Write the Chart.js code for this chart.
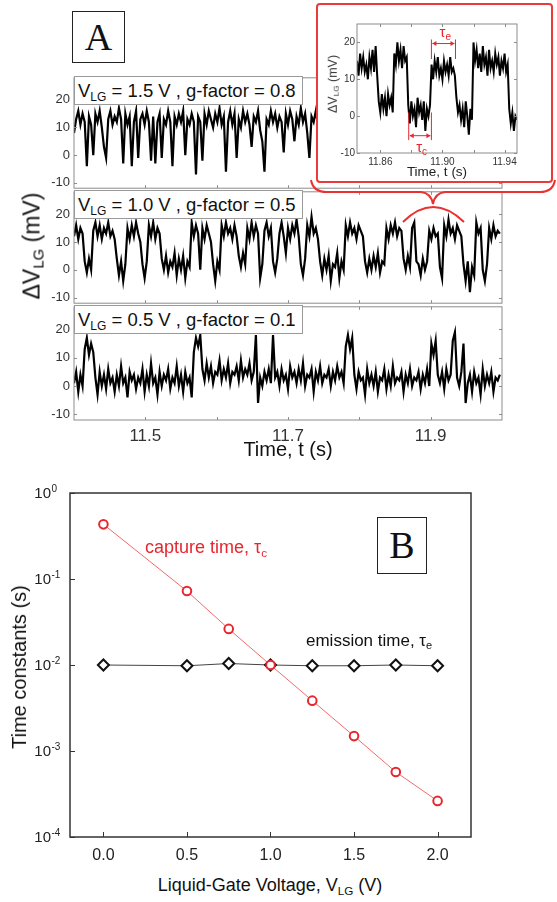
<!DOCTYPE html>
<html>
<head>
<meta charset="utf-8">
<script src="https://cdn.jsdelivr.net/npm/chart.js@4.4.1/dist/chart.umd.min.js"></script>
<style>
body { margin: 0; background: #fff; }
#page { position: relative; width: 557px; height: 902px; overflow: hidden;
        font-family: "Liberation Sans", Arial, Helvetica, sans-serif; color: #111; }
canvas { position: absolute; }
.t { position: absolute; white-space: nowrap; line-height: 1; }
.c { transform: translate(-50%, -50%); }
.rot { transform: translate(-50%, -50%) rotate(-90deg); }
sub { font-size: 65%; vertical-align: -0.3em; line-height: 0; }
.lbl { position: absolute; left: 74px; width: 229px; height: 29px; box-sizing: border-box;
       background: #fff; border: 1px solid #9a9a9a; font-size: 18.5px; line-height: 27px;
       padding-left: 3px; white-space: nowrap; }
.letter { position: absolute; box-sizing: border-box; border: 1.5px solid #222; background: #fff;
          font-family: "Liberation Serif", "Times New Roman", serif; font-size: 38px;
          text-align: center; }
#inset { position: absolute; left: 316px; top: 3px; width: 237px; height: 180px; box-sizing: border-box;
         border: 2px solid #ea3a3a; border-radius: 4px; background: #fff; }
</style>
</head>
<body>
<div id="page">
  <canvas id="p1" width="557" height="134" style="left:0;top:66px"></canvas>
  <canvas id="p2" width="557" height="135" style="left:0;top:180px"></canvas>
  <canvas id="p3" width="557" height="155" style="left:0;top:295px"></canvas>

  <div class="lbl" style="top:76px">V<sub>LG</sub> = 1.5 V , g-factor = 0.8</div>
  <div class="lbl" style="top:190px">V<sub>LG</sub> = 1.0 V , g-factor = 0.5</div>
  <div class="lbl" style="top:305px">V<sub>LG</sub> = 0.5 V , g-factor = 0.1</div>

  <div class="letter" style="left:72px;top:11px;width:53px;height:52px;line-height:50px">A</div>

  <div class="t rot" style="left:32px;top:246px;font-size:23px">&Delta;V<sub>LG</sub> (mV)</div>
  <div class="t c" style="left:288px;top:449px;font-size:20px">Time, t (s)</div>

  <div id="inset"></div>
  <canvas id="pi" width="233" height="176" style="left:318px;top:5px"></canvas>
  <div class="t rot" style="left:333px;top:84px;font-size:12.5px;color:#333">&Delta;V<sub>LG</sub> (mV)</div>
  <div class="t c" style="left:437px;top:172px;font-size:13.5px;color:#222">Time, t (s)</div>

  <svg style="position:absolute;left:0;top:0" width="557" height="240">
    <path d="M311,180 Q313,192 327,192 L421,192 Q431,193 433,204 Q435,193 445,192 L540,192 Q553,192 555,180"
          fill="none" stroke="#ea3030" stroke-width="2"/>
    <path d="M403,222 Q433,192 464,222" fill="none" stroke="#ea3030" stroke-width="2"/>
  </svg>

  <canvas id="pB" width="557" height="387" style="left:0;top:480px"></canvas>
  <div class="letter" style="left:377px;top:517px;width:50px;height:57px;line-height:55px">B</div>
  <div class="t" style="left:145px;top:538px;font-size:18px;color:#e8262e">capture time, &tau;<sub>c</sub></div>
  <div class="t" style="left:306px;top:632px;font-size:17px;color:#111">emission time, &tau;<sub>e</sub></div>
  <div class="t rot" style="left:19px;top:667px;font-size:20px">Time constants (s)</div>
  <div class="t c" style="left:270px;top:885px;font-size:18px">Liquid-Gate Voltage, V<sub>LG</sub> (V)</div>
</div>

<script>
const FONT = "'Liberation Sans', Arial, Helvetica, sans-serif";
const RED = '#e8262e';
Chart.defaults.font.family = FONT;

// PANEL A DATA - gate voltage traces in mV, one sample every 3 ms from 11.400 s
const traceStart = 11.4;
const traceStep = 0.003;

// VLG = 1.5 V, g-factor 0.8
const trace15 = [
  8, 13, 16, 11, 15, 12, -4, 14, 11, 0,
  15, 12, 16, 10, 3, -1, 13, 16, 11, 14,
  12, 17, 13, -3, 15, 11, 14, -4, 12, 16,
  -1, 13, 15, 11, 16, 12, -2, 14, -3, 12,
  15, -1, 13, 11, 16, 12, -4, 14, 11, 15,
  12, 16, 0, 13, 11, 15, 12, -7, 14, 12,
  -2, 15, 11, 16, 13, 10, 15, 12, 17, 11,
  14, -6, 12, 16, 11, 15, -1, 13, 10, 16,
  12, 15, 11, 3, 14, 12, 16, 9, 5, -6,
  13, 11, 16, 12, 15, 10, 14, 12, 1, 15,
  11, 16, 13, 5, 14, 11, 17, 12, 15, 8,
  -1, 14, 12, 16, 11, 15, -3, 13, 16, 12,
  14, 11, 15, 13, -2, 12, 16, 11, 15, 13,
  10, -5, 14, 12, 16, 11, 15, 12, 14, 11,
  -4, 15, 12, 16, 13, 11, 15, -3, 12, 16,
  11, 14, 12, 15, 10, -2, 13, 16, 11, 15,
  12, 14, -4, 13, 11, 16, 12, 15, 11, 14,
  13, -3, 15, 12, 16, 11, 14, 12, -1, 15,
  11, 16, 13, 12, 15, 11, 14, -5, 13, 16,
  12, 15, 11, -2, 14, 12, 16, 13, 11, 14
];

// VLG = 1.0 V, g-factor 0.5
const trace10 = [
  12, 16, 11, 15, 13, 3, -1, 4, 0, 14,
  17, 12, 16, 11, 15, 13, 17, 12, 14, 11,
  4, -2, 3, -4, 2, 15, 11, 16, 12, 17,
  13, 10, 2, -3, 3, 16, 12, 17, 11, 15,
  13, 4, 0, 5, -1, 3, 1, 6, -2, 4,
  0, 5, -3, 3, 1, 17, 12, 16, 13, 0,
  15, 11, 16, 13, 10, 2, -4, 3, 0, 16,
  12, 17, 13, 15, 11, 16, 12, 5, 1, 6,
  2, 15, 11, 17, 12, 16, 13, -3, 2, 14,
  17, 12, 15, 3, -1, 4, 13, 17, 12, 6,
  15, 11, 16, 13, 18, 12, 2, -2, 4, 16,
  12, 19, 13, 15, 11, 3, -2, 4, 0, 5,
  -4, 2, 1, 6, -3, 3, 0, 16, 12, 17,
  13, 15, 11, 16, 14, 12, 3, -1, 4, 0,
  5, 1, 6, -1, 3, 2, 15, 11, 16, 13,
  17, 12, 15, 14, 4, 0, 5, 1, 15, 17,
  3, 2, -2, 4, 0, 3, 14, 11, 15, 12,
  13, 1, -3, 16, 12, 18, 13, 15, 11, 16,
  14, 12, 2, -4, 3, -8, 1, -2, 17, 13,
  15, 0, -4, 2, 15, 11, 16, 12, 14, 13
];

// VLG = 0.5 V, g-factor 0.1
const trace05 = [
  1, 5, -2, 4, 0, 13, 17, 11, 15, 12,
  3, -3, 5, 0, 4, -1, 6, 1, 3, -2,
  4, 0, 7, 1, 3, -4, 5, 2, 4, -1,
  3, 1, 6, -2, 4, 0, 8, 1, 3, -3,
  5, 0, 4, 2, 6, -1, 3, 1, 7, 0,
  4, -2, 5, 1, 3, -4, 12, 17, 14, 18,
  6, 2, 8, 3, 7, 1, 5, 4, 9, 2,
  6, 3, 8, 1, 5, 4, 7, 2, 9, 3,
  6, 4, 8, 2, 5, 18, -6, 3, 0, 5,
  2, 6, 1, 18, 3, 5, 0, 6, 2, 4,
  -1, 7, 3, 5, 1, 6, 2, 8, 0, 4,
  3, 6, -2, 5, 2, 7, 1, 4, 3, 6,
  0, 5, 2, 7, 3, 5, 1, 14, 18, 13,
  17, 4, -1, 5, 2, 3, -3, 6, 1, 4,
  0, 5, -2, 3, 2, 6, -1, 4, 0, 7,
  1, 3, 2, 5, -2, 4, 1, 6, 0, 3,
  2, 5, -1, 4, 1, 6, 0, 15, 11, 16,
  4, 1, 5, -1, 6, 2, 4, 16, 19, 3,
  0, 5, 15, -6, 1, 4, -2, 5, 1, 3,
  -3, 6, 0, 4, 1, 5, -2, 3, 2, 4
];

// inset: zoom of the 1.0 V trace, 1 ms samples from 11.845 s
const insetStart = 11.845;
const insetStep = 0.001;
const insetTrace = [
  15, 11, 17, 13, 16, 12, 14, 10, 16, 13,
  18, 12, 19, 11, 4, 1, 6, 2, 5, 0,
  6, 3, 5, 1, 17, 14, 20, 15, 18, 13,
  19, 15, 16, 3, -2, 4, 0, 2, -3, 5,
  1, 3, -1, 4, -4, 2, 0, 3, 14, 10,
  15, 12, 16, 11, 13, 10, 15, 12, 14, 11,
  16, 12, 13, 11, 5, 1, 3, -1, 2, -3,
  4, 0, -5, 2, -1, 20, 15, 18, 13, 17,
  12, 19, 14, 16, 11, 18, 13, 15, 12, 17,
  14, 16, 11, 15, 13, 17, 12, 14, 2, -2,
  1, -4, 0, -1
];
const tauC = [11.8783, 11.8929];
const tauE = [11.8929, 11.9084];

const timeTicks = [11.5, 11.7, 11.9];
const timeMarks = [11.5, 11.6, 11.7, 11.8, 11.9];
const mvTicks = [-10, 0, 10, 20];
const insetTimeTicks = [11.86, 11.90, 11.94];
const insetTimeMarks = [11.86, 11.88, 11.90, 11.92, 11.94];

// PANEL B DATA
const vlg = [0, 0.5, 0.75, 1.0, 1.25, 1.5, 1.75, 2.0];
const tauCapture = [0.432, 0.0724, 0.0263, 0.0100, 0.00385, 0.00149, 0.00057, 0.000263];
const tauEmission = [0.0100, 0.0098, 0.0104, 0.0100, 0.0098, 0.0098, 0.0100, 0.0098];
const vlgTicks = [0, 0.5, 1.0, 1.5, 2.0];
const decadeTicks = [1e-4, 1e-3, 1e-2, 1e-1, 1];

// box round the plot area, ticks pointing inwards
const frame = {
  id: 'frame',
  afterDatasetsDraw(chart, args, o) {
    const {ctx, chartArea: a, scales} = chart;
    ctx.save();
    ctx.strokeStyle = o.color;
    ctx.lineWidth = o.width;
    ctx.strokeRect(a.left, a.top, a.right - a.left, a.bottom - a.top);
    ctx.lineWidth = 1;
    ctx.beginPath();
    (o.xMarks || []).forEach(v => {
      const px = Math.round(scales.x.getPixelForValue(v)) + 0.5;
      ctx.moveTo(px, a.bottom); ctx.lineTo(px, a.bottom - o.len);
      if (o.mirror) { ctx.moveTo(px, a.top); ctx.lineTo(px, a.top + o.len); }
    });
    (o.yMarks || []).forEach(v => {
      const py = Math.round(scales.y.getPixelForValue(v)) + 0.5;
      ctx.moveTo(a.left, py); ctx.lineTo(a.left + o.len, py);
      if (o.mirror) { ctx.moveTo(a.right, py); ctx.lineTo(a.right - o.len, py); }
    });
    ctx.stroke();
    ctx.restore();
  }
};

// tau_c / tau_e markers in the inset
const tauMarks = {
  id: 'tauMarks',
  afterDatasetsDraw(chart) {
    const {ctx, scales: {x, y}} = chart;
    ctx.save();
    ctx.strokeStyle = RED;
    ctx.fillStyle = RED;
    ctx.lineWidth = 1;
    function span(t, yTop, yBot, yArrow, sub, yText) {
      const x0 = x.getPixelForValue(t[0]), x1 = x.getPixelForValue(t[1]);
      const ya = y.getPixelForValue(yArrow);
      ctx.beginPath();
      ctx.moveTo(x0, y.getPixelForValue(yTop)); ctx.lineTo(x0, y.getPixelForValue(yBot));
      ctx.moveTo(x1, y.getPixelForValue(yTop)); ctx.lineTo(x1, y.getPixelForValue(yBot));
      ctx.moveTo(x0 + 1, ya); ctx.lineTo(x1 - 1, ya);
      ctx.stroke();
      ctx.beginPath();
      ctx.moveTo(x0 + 1, ya); ctx.lineTo(x0 + 5, ya - 2.5); ctx.lineTo(x0 + 5, ya + 2.5); ctx.closePath();
      ctx.moveTo(x1 - 1, ya); ctx.lineTo(x1 - 5, ya - 2.5); ctx.lineTo(x1 - 5, ya + 2.5); ctx.closePath();
      ctx.fill();
      const cx = (x0 + x1) / 2, cy = y.getPixelForValue(yText);
      ctx.textBaseline = 'middle';
      ctx.textAlign = 'right';
      ctx.font = '15px ' + FONT;
      ctx.fillText('\u03c4', cx + 2, cy);
      ctx.textAlign = 'left';
      ctx.font = '10px ' + FONT;
      ctx.fillText(sub, cx + 2, cy + 4);
    }
    span(tauC, 1, -6.5, -5.3, 'c', -8.6);
    span(tauE, 20.8, 15.5, 19.7, 'e', 22.6);
    ctx.restore();
  }
};

// 10^n labels for the log axis of panel B
const decadeLabels = {
  id: 'decadeLabels',
  afterDraw(chart) {
    const {ctx, chartArea: a, scales: {y}} = chart;
    ctx.save();
    ctx.fillStyle = '#222';
    ctx.textBaseline = 'middle';
    decadeTicks.forEach(v => {
      const py = y.getPixelForValue(v);
      const base = a.left - 19;
      ctx.font = '15px ' + FONT;
      ctx.textAlign = 'right';
      ctx.fillText('10', base, py + 1);
      ctx.font = '10px ' + FONT;
      ctx.textAlign = 'left';
      ctx.fillText(String(Math.round(Math.log10(v))), base + 0.5, py - 4);
    });
    ctx.restore();
  }
};

function traceChart(id, values, start, step, cfg) {
  const pts = values.map((v, i) => ({x: start + i * step, y: v}));
  return new Chart(document.getElementById(id), {
    type: 'line',
    data: {datasets: [{data: pts, borderColor: '#000', borderWidth: cfg.lw, pointRadius: 0, tension: 0,
      borderJoinStyle: 'miter'}]},
    options: {
      responsive: false, animation: false, devicePixelRatio: 1, events: [],
      layout: {padding: cfg.pad},
      plugins: {
        legend: {display: false}, tooltip: {enabled: false},
        frame: {color: '#8c8c8c', width: 1, len: 3, mirror: true, xMarks: cfg.xMarks, yMarks: mvTicks}
      },
      scales: {
        x: {
          type: 'linear', min: cfg.xmin, max: cfg.xmax, display: cfg.showX,
          grid: {display: false, drawTicks: false}, border: {display: false},
          afterBuildTicks: s => { s.ticks = cfg.xTicks.map(v => ({value: v})); },
          afterFit: s => { s.height = cfg.showX ? cfg.xh : 0; },
          ticks: {padding: cfg.xpad, color: '#333', font: {size: cfg.xfs}, callback: v => v.toFixed(cfg.dec)}
        },
        y: {
          min: cfg.ymin, max: cfg.ymax,
          grid: {display: false, drawTicks: false}, border: {display: false},
          afterBuildTicks: s => { s.ticks = mvTicks.map(v => ({value: v})); },
          afterFit: s => { s.width = cfg.yw; },
          ticks: {padding: cfg.ypad, color: '#333', font: {size: cfg.yfs}}
        }
      }
    },
    plugins: [frame].concat(cfg.extra || [])
  });
}

const mainCfg = {lw: 2.2, xmin: 11.4, xmax: 12.0, ymin: -12, ymax: 28, yw: 40, ypad: 4, yfs: 13,
  xTicks: timeTicks, xMarks: timeMarks, dec: 1, xfs: 17, xpad: 6, xh: 30};

traceChart('p1', trace15, traceStart, traceStep,
  Object.assign({}, mainCfg, {showX: false, pad: {left: 34, right: 55, top: 10, bottom: 10}}));
traceChart('p2', trace10, traceStart, traceStep,
  Object.assign({}, mainCfg, {showX: false, pad: {left: 34, right: 55, top: 10, bottom: 10}}));
traceChart('p3', trace05, traceStart, traceStep,
  Object.assign({}, mainCfg, {showX: true, pad: {left: 34, right: 55, top: 10, bottom: 0}}));

traceChart('pi', insetTrace, insetStart, insetStep, {
  lw: 2.0, xmin: 11.845, xmax: 11.948, ymin: -10, ymax: 25, yw: 39, ypad: 2, yfs: 10,
  xTicks: insetTimeTicks, xMarks: insetTimeMarks, dec: 2, xfs: 10, xpad: 3, xh: 28, showX: true,
  pad: {left: 0, right: 34, top: 19, bottom: 0}, extra: [tauMarks]
});

// PANEL B
new Chart(document.getElementById('pB'), {
  type: 'line',
  data: {
    datasets: [
      {
        label: 'capture time',
        data: vlg.map((v, i) => ({x: v, y: tauCapture[i]})),
        borderColor: '#f26a6a', borderWidth: 1,
        pointStyle: 'circle', pointRadius: 4.3, pointBorderWidth: 2,
        pointBorderColor: RED, pointBackgroundColor: '#fff'
      },
      {
        label: 'emission time',
        data: vlg.map((v, i) => ({x: v, y: tauEmission[i]})),
        borderColor: '#444', borderWidth: 1,
        pointStyle: 'rectRot', pointRadius: 5.5, pointBorderWidth: 2,
        pointBorderColor: '#111', pointBackgroundColor: '#fff'
      }
    ]
  },
  options: {
    responsive: false, animation: false, devicePixelRatio: 1, events: [],
    layout: {padding: {left: 0, right: 86, top: 13, bottom: 0}},
    plugins: {
      legend: {display: false}, tooltip: {enabled: false},
      frame: {color: '#333', width: 1.5, len: 5, mirror: false, xMarks: vlgTicks, yMarks: decadeTicks}
    },
    scales: {
      x: {
        type: 'linear', min: -0.2, max: 2.2,
        grid: {display: false, drawTicks: false}, border: {display: false},
        afterBuildTicks: s => { s.ticks = vlgTicks.map(v => ({value: v})); },
        afterFit: s => { s.height = 30; },
        ticks: {padding: 9, color: '#222', font: {size: 16}, callback: v => v.toFixed(1)}
      },
      y: {
        type: 'logarithmic', min: 1e-4, max: 1,
        grid: {display: false, drawTicks: false}, border: {display: false},
        afterBuildTicks: s => { s.ticks = decadeTicks.map(v => ({value: v})); },
        afterFit: s => { s.width = 70; },
        ticks: {display: false}
      }
    }
  },
  plugins: [frame, decadeLabels]
});
</script>
</body>
</html>
